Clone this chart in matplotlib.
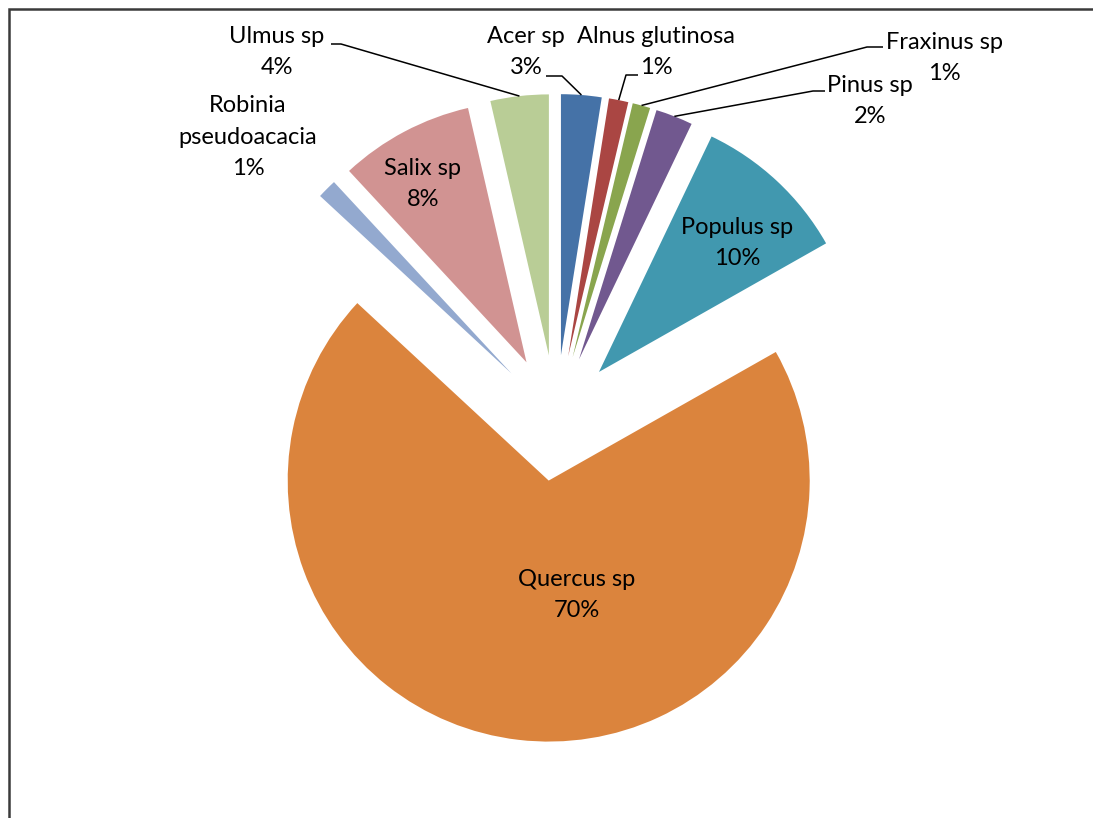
import matplotlib

matplotlib.use("Agg")

import numpy as np
import matplotlib.pyplot as plt
from matplotlib.patches import Rectangle

# data
species = [
    "Acer sp", "Alnus glutinosa", "Fraxinus sp", "Pinus sp", "Populus sp",
    "Quercus sp", "Robinia\npseudoacacia", "Salix sp", "Ulmus sp",
]
shares = [2.5, 1.2, 1.1, 2.3, 9.7, 70.1, 1.2, 8.3, 3.6]
pct_labels = ["3%", "1%", "1%", "2%", "10%", "70%", "1%", "8%", "4%"]
colors = [
    "#4572A7", "#AA4643", "#89A54E", "#71588F", "#4198AF",
    "#DB843D", "#93A9CF", "#D19392", "#B9CD96",
]

W, H = 1093, 818

# label layout in pixel coords (x, y from top)
label_pos = {
    "Acer sp": (526, 52),
    "Alnus glutinosa": (656, 52),
    "Fraxinus sp": (944, 58),
    "Pinus sp": (870, 101),
    "Populus sp": (737, 243),
    "Quercus sp": (577, 595),
    "Robinia\npseudoacacia": (248, 137),
    "Salix sp": (423, 184),
    "Ulmus sp": (277, 52),
}
# leader lines: label-side start, elbow (the end is the middle of the arc)
leaders = {
    "Ulmus sp": ((331, 44), (341, 44)),
    "Acer sp": ((546, 76), (562, 76)),
    "Alnus glutinosa": ((638, 75), (626, 75)),
    "Fraxinus sp": ((883, 47), (867, 47)),
    "Pinus sp": ((825, 91), (813, 91)),
}

plt.rcParams["font.family"] = ["Lato", "DejaVu Sans"]

fig = plt.figure(figsize=(W / 100, H / 100), dpi=100)
ax = fig.add_axes([0, 0, 1, 1])

radius = 261
center = (556, H - 418)
wedges, _ = ax.pie(
    shares,
    colors=colors,
    radius=radius,
    center=center,
    explode=[63] * len(shares),
    startangle=90,
    counterclock=False,
    wedgeprops=dict(linewidth=0),
)

ax.set_xlim(0, W)
ax.set_ylim(0, H)
ax.set_aspect("equal")
ax.axis("off")


def px(x, y):
    return x, H - y


for name, pct, w in zip(species, pct_labels, wedges):
    x, y = label_pos[name]
    ax.text(*px(x, y), f"{name}\n{pct}", ha="center", va="center",
            fontsize=17, linespacing=1.62, color="black")

    if name in leaders:
        start, elbow = leaders[name]
        ang = np.deg2rad(0.5 * (w.theta1 + w.theta2))
        cx, cy = w.center
        ex = cx + w.r * np.cos(ang)
        ey = cy + w.r * np.sin(ang)
        ax.plot([start[0], elbow[0], ex],
                [H - start[1], H - elbow[1], ey],
                color="black", lw=1.1, solid_capstyle="butt")

# chart frame (cut off at right/bottom)
fig.patches.append(Rectangle((9 / W, -0.05), 1.1, 1 - 9 / H + 0.05,
                             transform=fig.transFigure, fill=False,
                             edgecolor="#3a3a3a", lw=1.8))

fig.savefig("out.png", dpi=100)
